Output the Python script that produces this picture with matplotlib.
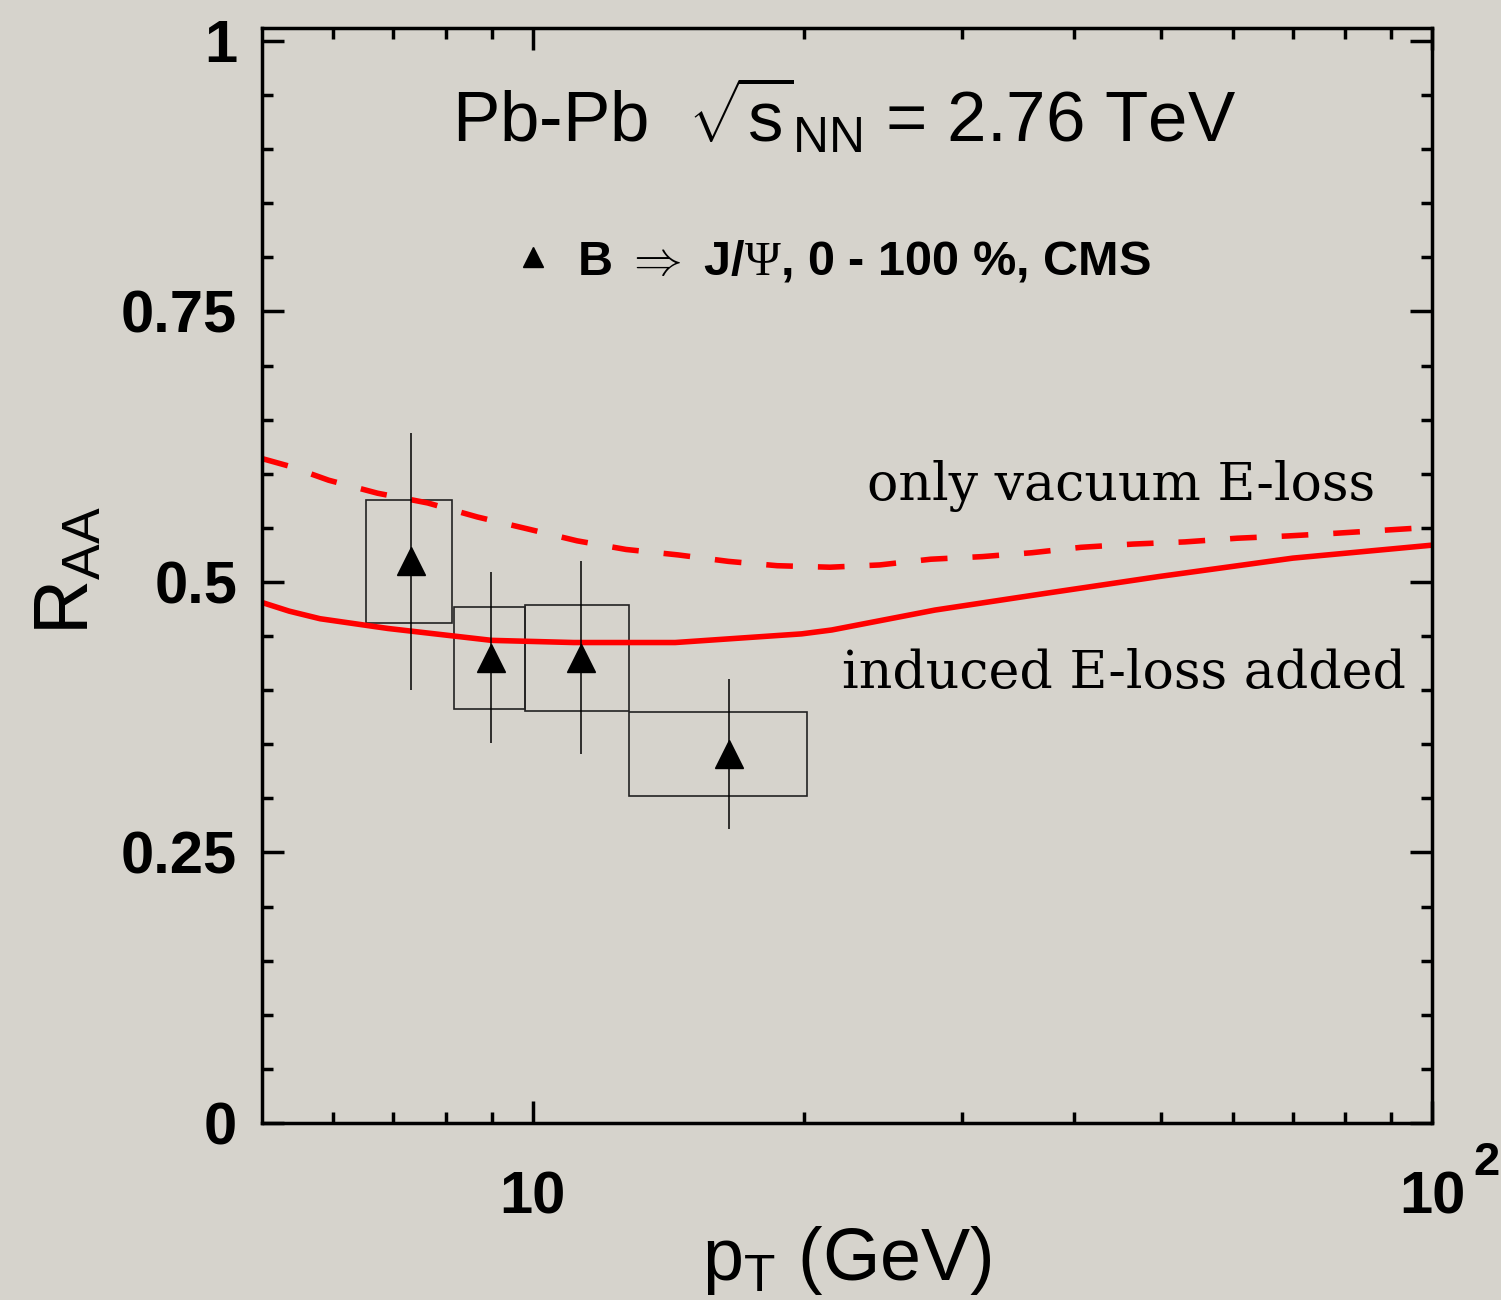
import matplotlib
matplotlib.use('Agg')
import matplotlib.pyplot as plt
from matplotlib.patches import Rectangle
from matplotlib.lines import Line2D
from matplotlib.ticker import FixedLocator, FixedFormatter, MultipleLocator, FuncFormatter, NullFormatter

# CMS B -> J/psi data points (0-100 %)
pt = [7.32, 8.99, 11.32, 16.51]
raa = [0.519, 0.430, 0.430, 0.341]
stat_err = [0.119, 0.079, 0.089, 0.069]
sys_err = [0.057, 0.047, 0.049, 0.039]
bin_lo = [6.52, 8.17, 9.80, 12.80]
bin_hi = [8.14, 9.80, 12.80, 20.19]

# model curve: induced E-loss added (solid)
pt_ind = [5.0, 5.36, 5.8, 6.9, 9.0, 11.1, 14.4, 19.9, 21.5, 28.0, 37.2, 49.7, 70.0, 100.0]
raa_ind = [0.481, 0.473, 0.466, 0.457, 0.446, 0.444, 0.444, 0.452, 0.4556, 0.474, 0.4895, 0.505,
           0.522, 0.534]

# model curve: only vacuum E-loss (dashed)
pt_vac = [5.0, 5.36, 5.93, 6.72, 7.64, 8.68, 9.87, 11.2, 12.7, 14.5, 16.5, 18.7, 21.4, 24.3,
          27.7, 31.6, 35.9, 40.7, 46.5, 53.1, 60.7, 69.1, 78.2, 89.2, 100.0]
raa_vac = [0.614, 0.607, 0.594, 0.582, 0.573, 0.560, 0.549, 0.538, 0.530, 0.525, 0.519, 0.515,
           0.5136, 0.5157, 0.521, 0.5234, 0.527, 0.532, 0.535, 0.537, 0.5404, 0.5425, 0.545,
           0.548, 0.5506]

x_major = [10, 100]
x_major_labels = ['10', '10']
x_minor = [6, 7, 8, 9, 20, 30, 40, 50, 60, 70, 80, 90]

bg = '#d6d3cc'
plt.rcParams['font.family'] = ['Liberation Sans', 'DejaVu Sans']
plt.rcParams['mathtext.fontset'] = 'custom'
plt.rcParams['mathtext.rm'] = 'Liberation Serif'
plt.rcParams['mathtext.sf'] = 'Liberation Sans'
plt.rcParams['mathtext.bf'] = 'Liberation Sans:bold'
plt.rcParams['mathtext.it'] = 'Liberation Sans:italic'

fig = plt.figure(figsize=(15.01, 13.0), dpi=100, facecolor=bg)
ax = fig.add_axes([0.1746, 0.1362, 0.7795, 0.8423], facecolor=bg)

# theory curves
ax.plot(pt_vac, raa_vac, color='#ff0000', lw=4, dashes=(4.8, 4.5))
ax.plot(pt_ind, raa_ind, color='#ff0000', lw=4)

# systematic boxes
for lo, hi, y, s in zip(bin_lo, bin_hi, raa, sys_err):
    ax.add_patch(Rectangle((lo, y - s), hi - lo, 2 * s, fill=False, ec='#222222', lw=1.2))

# data with stat errors
ax.errorbar(pt, raa, yerr=stat_err, fmt='^', color='k', ms=20, elinewidth=1.1, capsize=0)

ax.set_xscale('log')
ax.set_xlim(5, 100)
ax.set_ylim(0, 1.012)

ax.xaxis.set_major_locator(FixedLocator(x_major))
ax.xaxis.set_major_formatter(FixedFormatter(x_major_labels))
ax.xaxis.set_minor_locator(FixedLocator(x_minor))
ax.xaxis.set_minor_formatter(NullFormatter())
ax.yaxis.set_major_locator(MultipleLocator(0.25))
ax.yaxis.set_minor_locator(MultipleLocator(0.05))
ax.yaxis.set_major_formatter(FuncFormatter(lambda v, p: '%g' % v))

ax.tick_params(which='both', direction='in', top=True, right=True, width=2.5, color='k')
ax.tick_params(which='major', length=16)
ax.tick_params(which='minor', length=8)
ax.tick_params(axis='y', which='major', pad=18, labelsize=43)
ax.tick_params(axis='x', which='major', pad=34, labelsize=43)
for lab in ax.get_xticklabels() + ax.get_yticklabels():
    lab.set_fontweight('bold')
for sp in ax.spines.values():
    sp.set_linewidth(2.5)

# exponent of the 10^2 label
ax.text(1.035, -0.0475, '2', transform=ax.transAxes, fontsize=34, fontweight='bold',
        ha='left', va='baseline')

ax.set_xlabel(r'$\mathsf{p_T}$ (GeV)', fontsize=53)
ax.xaxis.set_label_coords(0.5, -0.092)
ax.set_ylabel(r'$\mathsf{R_{AA}}$', fontsize=55)
ax.yaxis.set_label_coords(-0.135, 0.505)

ax.text(0.162, 0.896, r'Pb-Pb  $\sqrt{\mathsf{s}}_{\mathsf{NN}}$ = 2.76 TeV', transform=ax.transAxes,
        fontsize=51, ha='left', va='baseline')

h = Line2D([], [], ls='none', marker='^', color='k', ms=14)
ax.legend([h], [r'B $\Rightarrow$ J/$\Psi$, 0 - 100 %, CMS'], loc='center left',
          bbox_to_anchor=(0.219, 0.787), frameon=False, handlelength=0.6, handletextpad=0.6,
          borderpad=0, borderaxespad=0, prop={'family': 'Liberation Sans', 'weight': 'bold', 'size': 35})

ax.text(0.517, 0.569, 'only vacuum E-loss', transform=ax.transAxes, fontsize=37.5,
        family='DejaVu Serif', ha='left', va='baseline')
ax.text(0.4957, 0.397, 'induced E-loss added', transform=ax.transAxes, fontsize=37.5,
        family='DejaVu Serif', ha='left', va='baseline')

plt.savefig('out.png', dpi=100, facecolor=bg)
